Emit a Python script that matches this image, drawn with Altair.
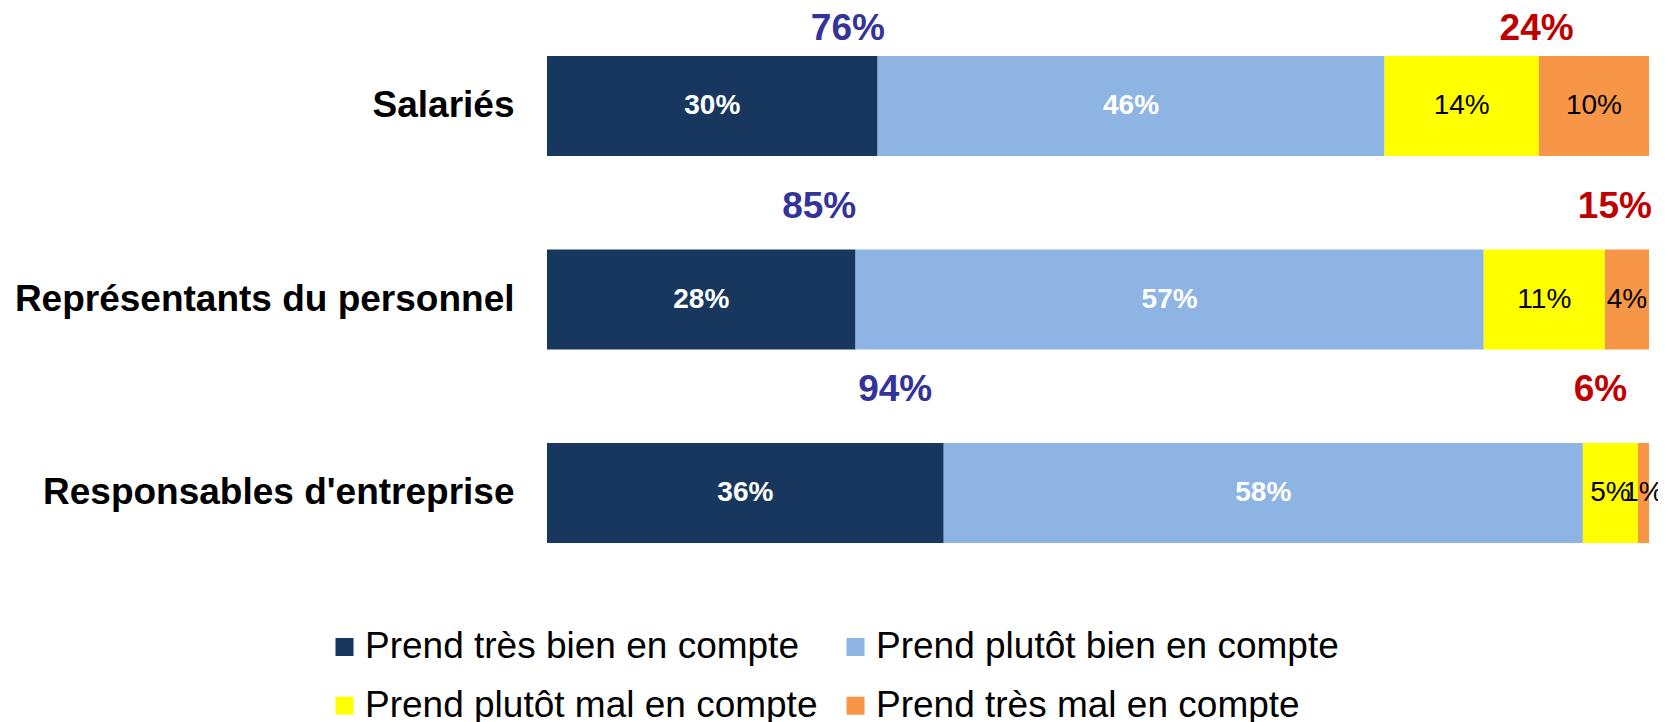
import altair as alt
import pandas as pd

groups = ["Salariés", "Représentants du personnel", "Responsables d'entreprise"]
categories = [
    "Prend très bien en compte",
    "Prend plutôt bien en compte",
    "Prend plutôt mal en compte",
    "Prend très mal en compte",
]
tres_bien = [30, 28, 36]
plutot_bien = [46, 57, 58]
plutot_mal = [14, 11, 5]
tres_mal = [10, 4, 1]
total_bien = [76, 85, 94]
total_mal = [24, 15, 6]

colors = ["#17375E", "#8EB4E3", "#FFFF00", "#F79646"]
text_colors = ["white", "white", "black", "black"]

# summary label anchors (x in data units) and vertical pixel offsets from the bar top
bien_anchor = [27.3, 24.7, 31.6]
mal_anchor = [89.8, 96.9, 95.6]
summary_dy = [-27, -42, -53]

series = [tres_bien, plutot_bien, plutot_mal, tres_mal]
rows = []
for gi, g in enumerate(groups):
    for ci, c in enumerate(categories):
        v = series[ci][gi]
        rows.append({
            "groupe": g, "categorie": c, "k": ci, "valeur": v,
            "label": f"{v}%", "tcolor": text_colors[ci],
        })
df = pd.DataFrame(rows)

srows = []
for gi, g in enumerate(groups):
    srows.append({"groupe": g, "txt": f"{total_bien[gi]}%", "ax": bien_anchor[gi],
                  "dy": summary_dy[gi], "col": "#333399"})
    srows.append({"groupe": g, "txt": f"{total_mal[gi]}%", "ax": mal_anchor[gi],
                  "dy": summary_dy[gi], "col": "#C00000"})
sdf = pd.DataFrame(srows)

SANS = "Liberation Sans, Arial"

yenc = alt.Y(
    "groupe:N", sort=groups, title=None,
    scale=alt.Scale(paddingInner=0.483, paddingOuter=0.2415),
    axis=alt.Axis(
        ticks=False, domain=False, labelFont=SANS, labelFontSize=37,
        labelFontWeight="bold", labelColor="black", labelPadding=33,
        labelLimit=800, labelAlign="right", labelBaseline="middle",
    ),
)
xscale = alt.Scale(domain=[0, 100], nice=False, zero=True)

base = alt.Chart(df)

bars = base.mark_bar().encode(
    y=yenc,
    x=alt.X("valeur:Q", stack="zero", scale=xscale, axis=None),
    color=alt.Color(
        "categorie:N", sort=categories,
        scale=alt.Scale(domain=categories, range=colors),
        legend=alt.Legend(
            title=None, orient="none", legendX=-221, legendY=619,
            direction="horizontal", columns=2, symbolType="square",
            symbolSize=324, symbolStrokeWidth=0, labelFont=SANS, labelFontSize=37,
            labelColor="black", labelOffset=2, columnPadding=19, rowPadding=21,
            labelLimit=800, padding=0,
        ),
    ),
    order=alt.Order("k:Q"),
)

stacked = base.transform_stack(
    stack="valeur", groupby=["groupe"], sort=[alt.SortField("k")], as_=["x0", "x1"]
).transform_calculate(mid="(datum.x0 + datum.x1) / 2")

white_txt = stacked.transform_filter("datum.k < 2").mark_text(
    font=SANS, fontSize=28, fontWeight="bold", baseline="middle", align="center"
).encode(
    y=alt.Y("groupe:N", sort=groups),
    x=alt.X("mid:Q", scale=xscale),
    text="label:N",
    color=alt.Color("tcolor:N", scale=None),
)
black_txt = stacked.transform_filter("datum.k >= 2").mark_text(
    font=SANS, fontSize=28, fontWeight="normal", baseline="middle", align="center"
).encode(
    y=alt.Y("groupe:N", sort=groups),
    x=alt.X("mid:Q", scale=xscale),
    text="label:N",
    color=alt.Color("tcolor:N", scale=None),
)

summary = alt.Chart(sdf).mark_text(
    font=SANS, fontSize=37, fontWeight="bold", baseline="middle", align="center"
).encode(
    y=alt.Y("groupe:N", sort=groups),
    yOffset=alt.YOffset("dy:Q", scale=None),
    x=alt.X("ax:Q", scale=xscale),
    text="txt:N",
    color=alt.Color("col:N", scale=None),
)

chart = alt.layer(bars, white_txt, black_txt, summary).properties(
    width=1102, height=580.5,
    autosize=alt.AutoSizeParams(type="none"),
    padding={"left": 539, "top": 1.25, "right": 9, "bottom": 132},
).configure(background="white").configure_view(strokeWidth=0, stroke="transparent")

chart.save("out.html", embed_options={"renderer": "svg", "actions": False})
